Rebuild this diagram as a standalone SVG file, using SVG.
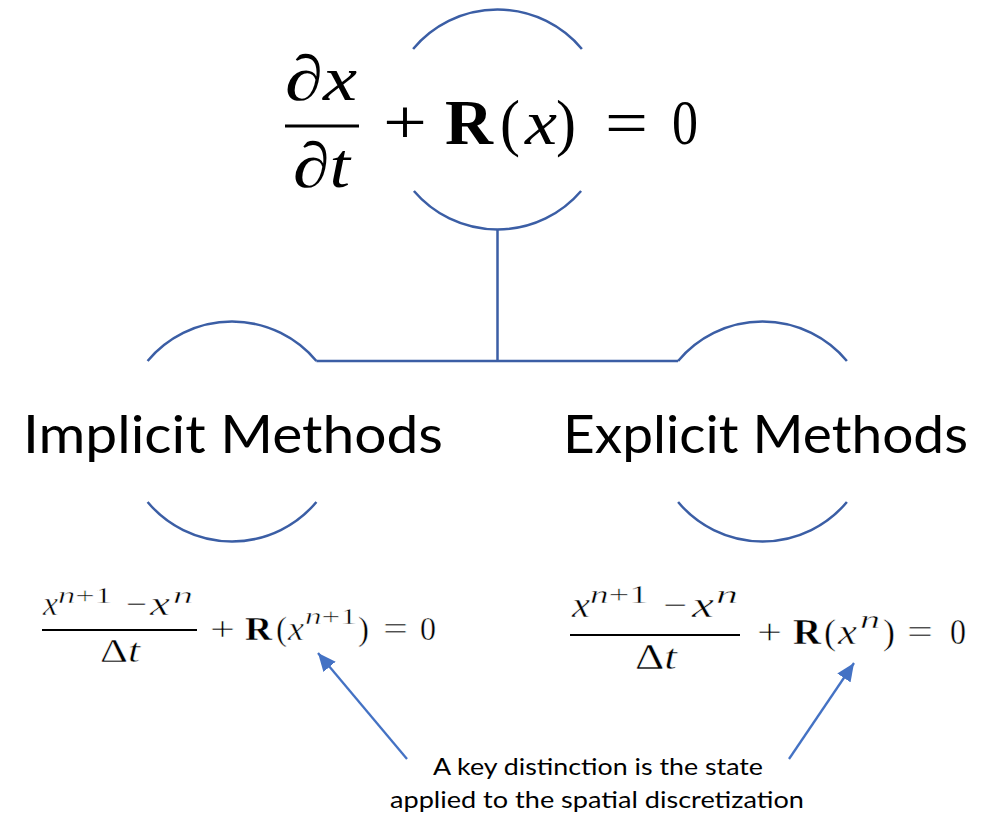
<svg xmlns="http://www.w3.org/2000/svg" width="997" height="816" viewBox="0 0 997 816">
<style>
.arc{fill:none;stroke:#3B5EA5;stroke-width:2.5}
.conn{fill:none;stroke:#3B5EA5;stroke-width:2.5}
.arrow{fill:none;stroke:#4472C4;stroke-width:2.3}
.m{font-family:"Liberation Serif","DejaVu Serif",serif;fill:#000}
.thin text{stroke:#fff;stroke-width:0.45}
.i{font-style:italic}
.b{font-weight:bold}
.lbl{font-family:Lato,"Open Sans","Liberation Sans",sans-serif;fill:#000}
.bar{stroke:#000}
</style>
<defs>
<marker id="ah" markerUnits="userSpaceOnUse" markerWidth="20" markerHeight="16" viewBox="0 0 20 16" refX="18" refY="8" orient="auto">
<path d="M0,0 L18,8 L0,16 Z" fill="#4472C4"/>
</marker>
</defs>
<rect width="997" height="816" fill="#fff"/>

<g id="connectors">
<path class="conn" d="M497.5,229.5 V361 M316.4,361 H678.1"/>
<line class="arrow" x1="407" y1="759" x2="318" y2="653" marker-end="url(#ah)"/>
<line class="arrow" x1="789" y1="759" x2="854" y2="663" marker-end="url(#ah)"/>
</g>

<g id="node-pde">
<path class="arc" d="M413.1,49 A110,110 0 0 1 581.9,49"/>
<path class="arc" d="M413.9,191 A110,110 0 0 0 581.1,191"/>
<g class="m" font-size="64">
<text class="i" x="285" y="100" textLength="72" lengthAdjust="spacingAndGlyphs">∂x</text>
<line class="bar" x1="285" y1="126" x2="359" y2="126" stroke-width="3"/>
<text class="i" x="293" y="187" textLength="57" lengthAdjust="spacingAndGlyphs">∂t</text>
<text x="383" y="144" textLength="44" lengthAdjust="spacingAndGlyphs">+</text>
<text class="b" x="445" y="144" textLength="48" lengthAdjust="spacingAndGlyphs">R</text>
<text x="500" y="144" textLength="20" lengthAdjust="spacingAndGlyphs">(</text>
<text class="i" x="525" y="144" textLength="32" lengthAdjust="spacingAndGlyphs">x</text>
<text x="556" y="144" textLength="20" lengthAdjust="spacingAndGlyphs">)</text>
<text x="605" y="144" textLength="43" lengthAdjust="spacingAndGlyphs">=</text>
<text x="672" y="144" textLength="26" lengthAdjust="spacingAndGlyphs">0</text>
</g>
</g>

<g id="node-implicit">
<path class="arc" d="M147.6,361 A110,110 0 0 1 316.4,361"/>
<path class="arc" d="M147.6,502 A110,110 0 0 0 316.4,502"/>
<text class="lbl" x="23" y="453" font-size="53" textLength="420" lengthAdjust="spacingAndGlyphs">Implicit Methods</text>
</g>

<g id="node-explicit">
<path class="arc" d="M678.1,361 A110,110 0 0 1 846.9,361"/>
<path class="arc" d="M678.1,502 A110,110 0 0 0 846.9,502"/>
<text class="lbl" x="563" y="453" font-size="53" textLength="405" lengthAdjust="spacingAndGlyphs">Explicit Methods</text>
</g>

<g id="eq-implicit" class="m thin">
<text class="i" x="43" y="615" font-size="33" textLength="15" lengthAdjust="spacingAndGlyphs">x</text>
<text x="58" y="603" font-size="23" textLength="54" lengthAdjust="spacingAndGlyphs"><tspan class="i">n</tspan>+1</text>
<text x="126" y="615" font-size="33" textLength="21" lengthAdjust="spacingAndGlyphs">−</text>
<text class="i" x="150" y="615" font-size="33" textLength="20" lengthAdjust="spacingAndGlyphs">x</text>
<text class="i" x="173" y="603" font-size="23" textLength="20" lengthAdjust="spacingAndGlyphs">n</text>
<line class="bar" x1="42" y1="630" x2="197" y2="630" stroke-width="1.8"/>
<text x="100" y="662" font-size="33" textLength="40" lengthAdjust="spacingAndGlyphs">Δ<tspan class="i">t</tspan></text>
<text x="210" y="640" font-size="33" textLength="25" lengthAdjust="spacingAndGlyphs">+</text>
<text class="b" x="245" y="640" font-size="33" textLength="27" lengthAdjust="spacingAndGlyphs">R</text>
<text x="276" y="640" font-size="33" textLength="11" lengthAdjust="spacingAndGlyphs">(</text>
<text class="i" x="288" y="640" font-size="33" textLength="16" lengthAdjust="spacingAndGlyphs">x</text>
<text x="305" y="624" font-size="23" textLength="52" lengthAdjust="spacingAndGlyphs"><tspan class="i">n</tspan>+1</text>
<text x="358" y="640" font-size="33" textLength="11" lengthAdjust="spacingAndGlyphs">)</text>
<text x="383" y="640" font-size="33" textLength="25" lengthAdjust="spacingAndGlyphs">=</text>
<text x="420" y="640" font-size="33" textLength="16" lengthAdjust="spacingAndGlyphs">0</text>
</g>

<g id="eq-explicit" class="m thin">
<text class="i" x="572" y="617" font-size="36" textLength="18" lengthAdjust="spacingAndGlyphs">x</text>
<text x="590" y="603" font-size="25" textLength="58" lengthAdjust="spacingAndGlyphs"><tspan class="i">n</tspan>+1</text>
<text x="663" y="617" font-size="36" textLength="24" lengthAdjust="spacingAndGlyphs">−</text>
<text class="i" x="692" y="617" font-size="36" textLength="22" lengthAdjust="spacingAndGlyphs">x</text>
<text class="i" x="716" y="603" font-size="25" textLength="22" lengthAdjust="spacingAndGlyphs">n</text>
<line class="bar" x1="570" y1="635" x2="740" y2="635" stroke-width="1.9"/>
<text x="635" y="669" font-size="36" textLength="42" lengthAdjust="spacingAndGlyphs">Δ<tspan class="i">t</tspan></text>
<text x="757" y="644" font-size="36" textLength="25" lengthAdjust="spacingAndGlyphs">+</text>
<text class="b" x="793" y="644" font-size="36" textLength="28" lengthAdjust="spacingAndGlyphs">R</text>
<text x="824" y="644" font-size="36" textLength="12" lengthAdjust="spacingAndGlyphs">(</text>
<text class="i" x="838" y="644" font-size="36" textLength="19" lengthAdjust="spacingAndGlyphs">x</text>
<text class="i" x="860" y="628" font-size="25" textLength="20" lengthAdjust="spacingAndGlyphs">n</text>
<text x="883" y="644" font-size="36" textLength="12" lengthAdjust="spacingAndGlyphs">)</text>
<text x="907" y="644" font-size="36" textLength="26" lengthAdjust="spacingAndGlyphs">=</text>
<text x="950" y="644" font-size="36" textLength="16" lengthAdjust="spacingAndGlyphs">0</text>
</g>

<g id="note">
<text class="lbl" x="433" y="775" font-size="24" textLength="330" lengthAdjust="spacingAndGlyphs">A key distinction is the state</text>
<text class="lbl" x="390" y="808" font-size="24" textLength="414" lengthAdjust="spacingAndGlyphs">applied to the spatial discretization</text>
</g>
</svg>
